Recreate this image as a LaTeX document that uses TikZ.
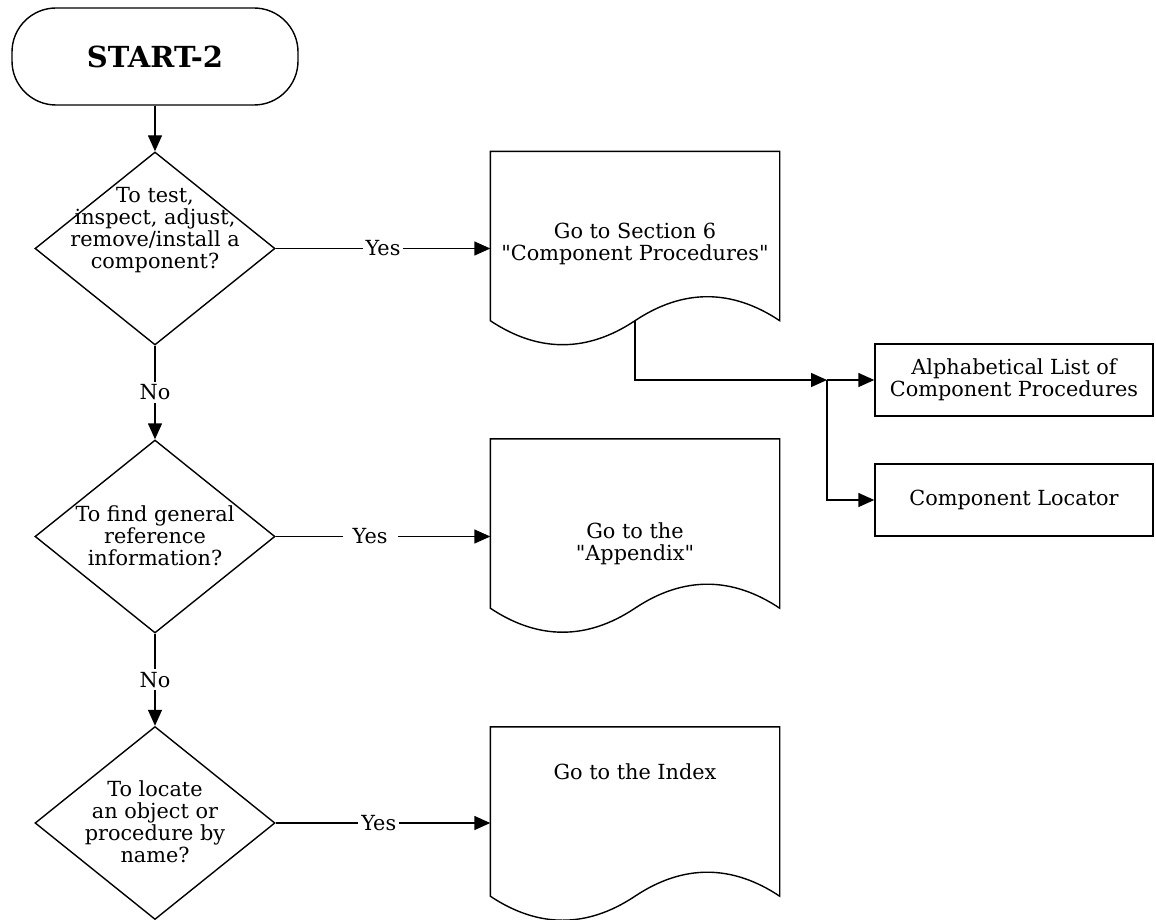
\documentclass[tikz,border=0pt]{standalone}
\usepackage{fontspec}
\setmainfont{DejaVu Serif}
\usetikzlibrary{positioning,shapes.geometric,arrows.meta}

\tikzset{
  startbox/.style={draw,rounded corners=22pt,minimum width=143pt,minimum height=48.5pt,
    font=\bfseries\fontsize{14.5}{16}\selectfont},
  decision/.style={draw,diamond,minimum width=120pt,minimum height=96.5pt,inner sep=0pt},
  docbox/.style={minimum width=144pt,minimum height=84pt,inner sep=0pt},
  listbox/.style={draw,minimum width=139pt,minimum height=36pt,align=center,inner sep=0pt},
  txt/.style={align=center,inner sep=0pt},
  lbl/.style={fill=white,inner sep=1.5pt},
}

% outline of a document symbol round an empty docbox node
\newcommand{\docoutline}[1]{%
  \draw (#1.south east) -- (#1.north east) -- (#1.north west) -- (#1.south west)
    .. controls +(48,32) and +(-48,32) .. (#1.south)
    .. controls +(48,-32) and +(-48,-32) .. (#1.south east) -- cycle;}

\begin{document}
\begin{tikzpicture}[x=0.5pt,y=-0.5pt,line width=0.7pt,>={Triangle[length=8pt,width=7pt]},
    every node/.style={font=\fontsize{10.4}{11}\selectfont}]
    \useasboundingbox (0,0) rectangle (1156,920);
    \node[startbox] (start) at (155,56.5) {START-2};
    % decisions
    \node[decision] (q1) at (155,248.5) {};
    \node[decision] (q2) at (155,536.5) {};
    \node[decision] (q3) at (155,823) {};
    \node[txt] (q1t) at (155,230) {To test,\\inspect, adjust,\\remove/install a\\component?};
    \node[txt] (q2t) at (155,536) {To find general\\reference\\information?};
    \node[txt] (q3t) at (155,822) {To locate\\an object or\\procedure by\\name?};
    % documents
    \node[docbox] (sec6) at (635,236) {};
    \node[docbox] (app) at (635,523.5) {};
    \node[docbox] (idx) at (635,811.5) {};
    \docoutline{sec6}
    \docoutline{app}
    \docoutline{idx}
    \node[txt] (sec6t) at (635,244) {Go to Section 6\\\textquotedbl Component Procedures\textquotedbl};
    \node[txt] (appt) at (635,544) {Go to the\\\textquotedbl Appendix\textquotedbl};
    \node[txt] (idxt) at (635,772) {Go to the Index};
    % lists
    \node[listbox] (alpha) at (1014,380) {Alphabetical List of\\Component Procedures};
    \node[listbox] (loc) at (1014,500) {Component Locator};
    \coordinate (split) at (827,380);

    \draw[->] (start) -- (q1);
    \draw[->] (q1.south) -- node[lbl] {No} (q2.north);
    \draw[->] (q2.south) -- node[lbl] {No} (q3.north);
    \draw[->] (q1.east) -- node[lbl,pos=0.5] {Yes} (q1.east -| sec6.west);
    \draw[->] (q2.east) -- node[lbl,pos=0.44,inner xsep=5pt] {Yes} (q2.east -| app.west);
    \draw[->] (q3.east) -- node[lbl,pos=0.48] {Yes} (q3.east -| idx.west);
    \draw[->] (sec6.south) |- (split);
    \draw[->] (split) -- (alpha.west);
    \draw[->] (split) |- (loc.west);
  \end{tikzpicture}
\end{document}
